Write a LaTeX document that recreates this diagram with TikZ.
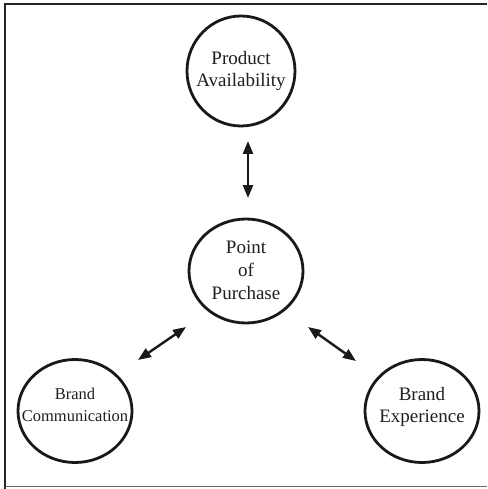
\documentclass[tikz,border=0pt]{standalone}
\usepackage{fontspec}
\setmainfont{Liberation Serif}
\usetikzlibrary{arrows.meta}
\begin{document}
\begin{tikzpicture}[x=1pt,y=-1pt,
  lbl/.style={font=\fontsize{19}{22}\selectfont, align=center, text=black!88},
  biarrow/.style={line width=2.4pt, draw=black!90, {Triangle[length=13pt,width=10pt]}-{Triangle[length=13pt,width=10pt]}}]
\useasboundingbox (0,0) rectangle (487,489);
\fill[white] (0,0) rectangle (487,489);
% frame
\draw[line width=2.8pt, black!85] (5,489) -- (5,4) -- (487,4);
\draw[line width=1.6pt, black!60] (5,486.5) -- (487,486.5);
% ellipses
\draw[black!90, line width=2.8pt] (241,71) ellipse [x radius=54, y radius=55];
\draw[black!90, line width=2.8pt] (246,271) ellipse [x radius=57, y radius=52];
\draw[black!90, line width=2.8pt] (75,411) ellipse [x radius=57, y radius=51.5];
\draw[black!90, line width=2.8pt] (422,411) ellipse [x radius=57, y radius=51.5];
% labels
\node[lbl] (pa) at (241,71) {Product\\Availability};
\node[lbl, font=\fontsize{19}{23}\selectfont] (pp) at (246,270) {Point\\of\\Purchase};
\node[lbl, font=\fontsize{16.5}{22}\selectfont] (bc) at (75,405) {Brand\\Communication};
\node[lbl] (be) at (422,407) {Brand\\Experience};
% arrow endpoints
\coordinate (a1) at (248,141);
\coordinate (a2) at (248,198);
\coordinate (b1) at (138,360);
\coordinate (b2) at (186,327);
\coordinate (c1) at (308,327);
\coordinate (c2) at (356,361);
\draw[biarrow] (a1) -- (a2);
\draw[biarrow] (b1) -- (b2);
\draw[biarrow] (c1) -- (c2);
\end{tikzpicture}
\end{document}
